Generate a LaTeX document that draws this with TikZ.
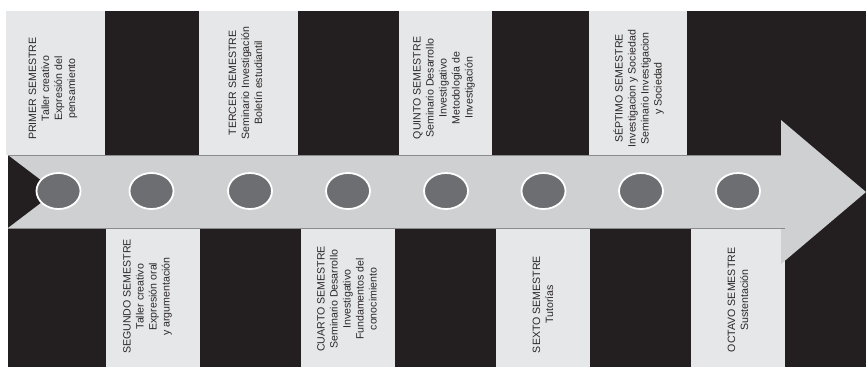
\documentclass[tikz,border=0pt]{standalone}
\usepackage{fontspec}
\setmainfont{Liberation Sans}
\usetikzlibrary{shapes.geometric}
\definecolor{darkc}{HTML}{231F20}
\definecolor{panelc}{HTML}{E6E7E8}
\definecolor{bandc}{HTML}{CFD0D2}
\definecolor{dotc}{HTML}{6D6E71}
\definecolor{edgec}{HTML}{8A8B8D}
\definecolor{textc}{HTML}{2B2829}
\begin{document}
\begin{tikzpicture}[x=1pt,y=-1pt,
  panel/.style={fill=panelc},
  dot/.style={ellipse,minimum width=44pt,minimum height=36pt,inner sep=0pt,fill=dotc,draw=white,line width=1.8pt},
  label/.style={rotate=90,align=center,text=textc,inner sep=0pt,font=\fontsize{10.6}{13}\selectfont}]
\useasboundingbox (0,0) rectangle (866,368);
\fill[white] (0,0) rectangle (866,368);
\fill[darkc] (8,11) rectangle (866,367);
% top panels
\fill[panel] (6,11) rectangle (105,155);
\fill[panel] (199,11) rectangle (298,155);
\fill[panel] (399,11) rectangle (492,155);
\fill[panel] (589,11) rectangle (687,155);
% bottom panels
\fill[panel] (106,228) rectangle (200,367);
\fill[panel] (301,228) rectangle (395,367);
\fill[panel] (496,228) rectangle (590,367);
\fill[panel] (691,228) rectangle (785,367);
% arrow
\fill[bandc] (8,155) -- (781,155) -- (781,120) -- (866,192) -- (781,264) -- (781,228) -- (8,228) -- (56,191.5) -- cycle;
\draw[edgec,line width=0.8pt] (8,155) -- (781,155);
\draw[edgec,line width=0.8pt] (8,228) -- (785,228);
% dots
\node[dot] (c1) at (58.5,191) {};
\node[dot] (c2) at (151.5,191) {};
\node[dot] (c3) at (250,191) {};
\node[dot] (c4) at (348,191) {};
\node[dot] (c5) at (446,191) {};
\node[dot] (c6) at (543.5,191) {};
\node[dot] (c7) at (641,191) {};
\node[dot] (c8) at (738,191) {};
% labels
\node[label] (t1) at (53,88.5) {PRIMER SEMESTRE\\Taller creativo\\Expresión del\\pensamiento};
\node[label] (t3) at (245.5,83) {TERCER SEMESTRE\\Seminario Investigación\\Boletín estudiantil};
\node[label] (t5) at (444,88) {QUINTO SEMESTRE\\Seminario Desarrollo\\Investigativo\\Metodología de\\Investigación};
\node[label] (t7) at (638.5,88.5) {SÉPTIMO SEMESTRE\\Investigacion y Sociedad\\Seminario Investigacion\\y Sociedad};
\node[label] (t2) at (147.5,296.5) {SEGUNDO SEMESTRE\\Taller creativo\\Expresión oral\\y argumentación};
\node[label] (t4) at (347,299) {CUARTO SEMESTRE\\Seminario Desarrollo\\Investigativo\\Fundamentos del\\conocimiento};
\node[label] (t6) at (543,304.5) {SEXTO SEMESTRE\\Tutorías};
\node[label] (t8) at (738,300) {OCTAVO SEMESTRE\\Sustentación};
\end{tikzpicture}
\end{document}
